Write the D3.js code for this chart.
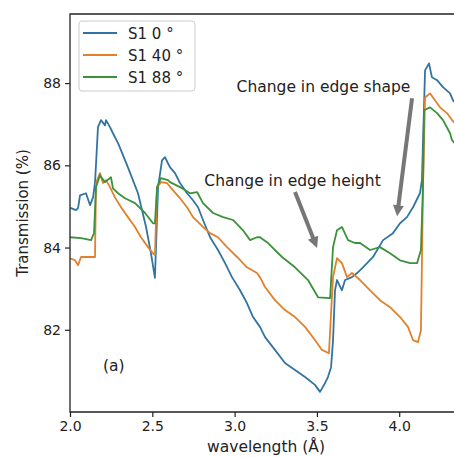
<!DOCTYPE html>
<html>
<head>
<meta charset="utf-8">
<script src="https://cdn.jsdelivr.net/npm/d3@7"></script>
<style>
  html, body { margin: 0; padding: 0; background: #fff; }
  svg { display: block; font-family: "DejaVu Sans", sans-serif; }
</style>
</head>
<body>
<svg id="chart" width="454" height="457"></svg>
<script>
// series: [wavelength, transmission]
const s1_0 = [
  [2.000, 84.96], [2.006, 84.96], [2.036, 84.91], [2.049, 84.96], [2.061, 85.27],
  [2.097, 85.32], [2.122, 85.03], [2.140, 85.22], [2.152, 85.57], [2.170, 86.93],
  [2.188, 87.10], [2.213, 86.97], [2.219, 87.10], [2.243, 86.93], [2.261, 86.78],
  [2.292, 86.54], [2.352, 85.95], [2.413, 85.32], [2.462, 84.50], [2.492, 83.86],
  [2.516, 83.26], [2.535, 85.47], [2.559, 86.12], [2.577, 86.20], [2.595, 86.05],
  [2.608, 85.95], [2.638, 85.81], [2.668, 85.57], [2.711, 85.32], [2.747, 85.15],
  [2.778, 84.98], [2.808, 84.67], [2.851, 84.25], [2.899, 83.94], [2.942, 83.62],
  [2.984, 83.28], [3.033, 82.96], [3.075, 82.65], [3.112, 82.31], [3.154, 82.07],
  [3.185, 81.82], [3.245, 81.51], [3.306, 81.19], [3.367, 81.02], [3.428, 80.85],
  [3.488, 80.66], [3.519, 80.49], [3.549, 80.70], [3.567, 80.85], [3.586, 81.09],
  [3.598, 81.75], [3.610, 82.96], [3.622, 83.21], [3.652, 82.96], [3.671, 83.21],
  [3.713, 83.28], [3.744, 83.38], [3.780, 83.52], [3.841, 83.77], [3.902, 84.18],
  [3.962, 84.35], [4.005, 84.59], [4.047, 84.74], [4.084, 84.98], [4.126, 85.32],
  [4.138, 85.64], [4.157, 88.31], [4.181, 88.48], [4.199, 88.14], [4.230, 88.07],
  [4.266, 87.90], [4.309, 87.75], [4.327, 87.58], [4.345, 87.50]
];
const s1_40 = [
  [2.000, 83.74], [2.030, 83.69], [2.049, 83.57], [2.067, 83.77], [2.152, 83.77],
  [2.158, 85.57], [2.182, 85.81], [2.200, 85.57], [2.219, 85.64], [2.243, 85.47],
  [2.273, 85.22], [2.310, 84.98], [2.352, 84.74], [2.395, 84.50], [2.431, 84.25],
  [2.474, 84.01], [2.504, 83.86], [2.516, 83.82], [2.529, 85.47], [2.553, 85.59],
  [2.589, 85.57], [2.626, 85.39], [2.668, 85.20], [2.711, 84.98], [2.747, 84.74],
  [2.808, 84.50], [2.851, 84.35], [2.899, 84.25], [2.954, 84.01], [3.015, 83.77],
  [3.075, 83.52], [3.136, 83.38], [3.154, 83.28], [3.185, 83.04], [3.245, 82.72],
  [3.306, 82.48], [3.367, 82.31], [3.428, 82.07], [3.488, 81.75], [3.531, 81.51],
  [3.573, 81.43], [3.586, 82.41], [3.598, 83.28], [3.622, 83.74], [3.652, 83.62],
  [3.683, 83.28], [3.713, 83.38], [3.762, 83.21], [3.823, 82.96], [3.883, 82.72],
  [3.944, 82.55], [4.005, 82.31], [4.053, 82.07], [4.084, 81.75], [4.114, 81.70],
  [4.132, 81.99], [4.145, 85.57], [4.157, 87.65], [4.187, 87.75], [4.217, 87.58],
  [4.248, 87.41], [4.290, 87.27], [4.321, 87.10], [4.345, 87.00]
];
const s1_88 = [
  [2.000, 84.25], [2.067, 84.23], [2.128, 84.18], [2.146, 84.35], [2.158, 85.47],
  [2.182, 85.76], [2.213, 85.59], [2.249, 85.71], [2.261, 85.44], [2.292, 85.32],
  [2.334, 85.20], [2.395, 85.08], [2.456, 84.84], [2.504, 84.59], [2.516, 84.59],
  [2.529, 85.47], [2.553, 85.69], [2.595, 85.64], [2.608, 85.59], [2.668, 85.47],
  [2.729, 85.32], [2.772, 85.35], [2.808, 85.08], [2.869, 84.84], [2.930, 84.74],
  [2.990, 84.67], [3.051, 84.42], [3.094, 84.18], [3.136, 84.25], [3.154, 84.25],
  [3.203, 84.11], [3.288, 83.77], [3.367, 83.52], [3.446, 83.21], [3.507, 82.79],
  [3.580, 82.77], [3.598, 84.01], [3.622, 84.42], [3.652, 84.50], [3.689, 84.18],
  [3.731, 84.11], [3.762, 84.11], [3.823, 83.94], [3.883, 84.01], [3.944, 83.86],
  [4.005, 83.69], [4.066, 83.62], [4.108, 83.62], [4.132, 83.94], [4.145, 85.57],
  [4.151, 87.34], [4.187, 87.41], [4.230, 87.27], [4.266, 87.10], [4.309, 86.78],
  [4.321, 86.61], [4.345, 86.50]
];

const seriesNames = ["S1 0 °", "S1 40 °", "S1 88 °"];
const seriesColors = ["#3274a1", "#e1812c", "#3a923a"];
const xTicks = [2.0, 2.5, 3.0, 3.5, 4.0];
const yTicks = [82, 84, 86, 88];

// annotations: text [x, y] (data units), arrow from -> to
const notes = [
  { text: "Change in edge shape", at: [3.540, 87.78], from: [4.078, 87.63], to: [3.987, 84.76] },
  { text: "Change in edge height", at: [3.352, 85.49], from: [3.367, 85.35], to: [3.501, 83.99] }
];

const svg = d3.select("#chart");
const margin = { top: 14, left: 70, bottom: 45 };
const W = 454, H = 457;
const plotRight = 456;

const x = d3.scaleLinear().domain([2.0, 4.345]).range([margin.left, plotRight]);
const y = d3.scaleLinear().domain([80.0, 89.68]).range([H - margin.bottom, margin.top]);

svg.append("defs").append("clipPath").attr("id", "plotclip")
  .append("rect")
  .attr("x", margin.left).attr("y", margin.top)
  .attr("width", plotRight - margin.left)
  .attr("height", y.range()[0] - margin.top);

const line = d3.line().x(d => x(d[0])).y(d => y(d[1]));

svg.append("g").attr("clip-path", "url(#plotclip)")
  .selectAll("path")
  .data([s1_0, s1_40, s1_88])
  .join("path")
  .attr("d", line)
  .attr("fill", "none")
  .attr("stroke", (d, i) => seriesColors[i])
  .attr("stroke-width", 1.8)
  .attr("stroke-linejoin", "round");

// axes
const xAxis = svg.append("g")
  .attr("transform", `translate(0,${y.range()[0]})`)
  .call(d3.axisBottom(x).tickValues(xTicks).tickFormat(d3.format(".1f")).tickSize(5).tickPadding(4));
const yAxis = svg.append("g")
  .attr("transform", `translate(${margin.left},0)`)
  .call(d3.axisLeft(y).tickValues(yTicks).tickFormat(d3.format("d")).tickSize(5).tickPadding(4));

[xAxis, yAxis].forEach(a => {
  a.select(".domain").remove();
  a.selectAll(".tick line").attr("stroke", "#222").attr("stroke-width", 1.2);
  a.selectAll(".tick text").attr("fill", "#222").style("font-size", "14px")
    .style("font-family", "DejaVu Sans, sans-serif");
});

// spines
svg.append("path")
  .attr("d", `M${plotRight},${margin.top}H${margin.left}V${y.range()[0]}H${plotRight}`)
  .attr("fill", "none").attr("stroke", "#222").attr("stroke-width", 1.3);

// axis labels
svg.append("text")
  .attr("x", 266).attr("y", 452)
  .attr("text-anchor", "middle")
  .style("font-size", "15.5px").attr("fill", "#222")
  .text("wavelength (Å)");
svg.append("text")
  .attr("transform", `translate(28,${(margin.top + y.range()[0]) / 2}) rotate(-90)`)
  .attr("text-anchor", "middle")
  .style("font-size", "15px").attr("fill", "#222")
  .text("Transmission (%)");

// annotations with arrows
const arrowColor = "#777";
notes.forEach(n => {
  const x0 = x(n.from[0]), y0 = y(n.from[1]);
  const x1 = x(n.to[0]), y1 = y(n.to[1]);
  const ang = Math.atan2(y1 - y0, x1 - x0);
  const headLen = 11, headW = 5.5, shaft = 2;
  const len = Math.hypot(x1 - x0, y1 - y0);
  const pts = [
    [0, -shaft], [len - headLen, -shaft], [len - headLen, -headW],
    [len, 0], [len - headLen, headW], [len - headLen, shaft], [0, shaft]
  ];
  svg.append("path")
    .attr("d", "M" + pts.map(p => p.join(",")).join("L") + "Z")
    .attr("transform", `translate(${x0},${y0}) rotate(${ang * 180 / Math.PI})`)
    .attr("fill", arrowColor);
  svg.append("text")
    .attr("x", x(n.at[0])).attr("y", y(n.at[1]))
    .attr("text-anchor", "middle")
    .style("font-size", "15.5px").attr("fill", "#222")
    .text(n.text);
});

svg.append("text")
  .attr("x", x(2.2)).attr("y", y(81.0))
  .style("font-size", "15.5px").attr("fill", "#222")
  .text("(a)");

// legend
const legend = svg.append("g").attr("transform", "translate(79,21)");
legend.append("rect")
  .attr("width", 116).attr("height", 70).attr("rx", 3)
  .attr("fill", "#fff").attr("fill-opacity", 0.85)
  .attr("stroke", "#ccc").attr("stroke-width", 1);
const rows = legend.selectAll("g.row")
  .data(seriesNames)
  .join("g").attr("class", "row")
  .attr("transform", (d, i) => `translate(0,${12 + i * 22})`);
rows.append("line")
  .attr("x1", 4).attr("x2", 38)
  .attr("stroke", (d, i) => seriesColors[i]).attr("stroke-width", 1.8);
rows.append("text")
  .attr("x", 49).attr("y", 5.5)
  .style("font-size", "15px").attr("fill", "#222")
  .text(d => d);
</script>
</body>
</html>
